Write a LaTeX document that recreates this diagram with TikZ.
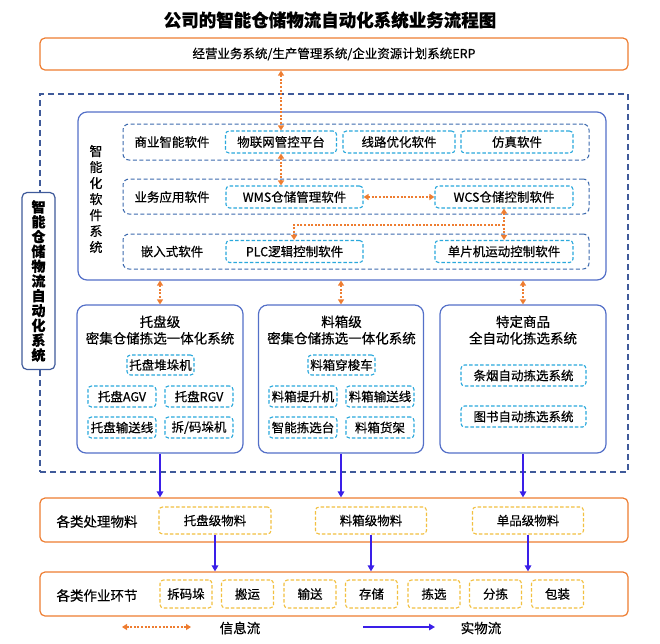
\documentclass[tikz,border=0pt]{standalone}
\usepackage{fontspec}
\setmainfont{Noto Sans CJK SC}[FakeBold=0.5]
\usetikzlibrary{arrows.meta}
\definecolor{ocol}{HTML}{EE7D31}
\definecolor{navy}{HTML}{3F5A9A}
\definecolor{swb}{HTML}{5470C8}
\definecolor{rowb}{HTML}{3D6AAE}
\definecolor{cyb}{HTML}{29A8DC}
\definecolor{yel}{HTML}{F2C040}
\definecolor{phy}{HTML}{3A1FE8}
\tikzset{
  fs/.style={font=\fontsize{12.5}{15}\selectfont},
  obox/.style={draw=ocol, rounded corners=5pt, line width=1.2pt, fill=white},
  outerdash/.style={draw=navy, line width=1.2pt, dash pattern=on 6pt off 4pt},
  swbox/.style={draw=swb, rounded corners=9pt, line width=1.2pt, fill=white},
  rowbox/.style={draw=rowb, dash pattern=on 4pt off 2.5pt, rounded corners=6pt, line width=1pt},
  cybox/.style={draw=cyb, dash pattern=on 3.5pt off 2pt, rounded corners=3.5pt, line width=1.1pt, fs, inner sep=0pt},
  yebox/.style={draw=yel, dash pattern=on 3.5pt off 2pt, rounded corners=3.5pt, line width=1.1pt, fs, inner sep=0pt},
  info/.style={draw=ocol, line width=2pt, dash pattern=on 2pt off 1.6pt, {Triangle[length=5pt,width=6pt]}-{Triangle[length=5pt,width=6pt]}},
  infoone/.style={draw=ocol, line width=2pt, dash pattern=on 2pt off 1.6pt, -{Triangle[length=5pt,width=6pt]}},
  phys/.style={draw=phy, line width=1.8pt, -{Triangle[length=6pt,width=6.5pt]}},
  lbl/.style={fs},
}
\begin{document}
\begin{tikzpicture}[x=1pt,y=-1pt]
\useasboundingbox (0,0) rectangle (660,643);
% title
\node[font=\fontsize{17.5}{20}\selectfont\bfseries] (title) at (330,20) {公司的智能仓储物流自动化系统业务流程图};
% ERP
\node[obox, minimum width=588pt, minimum height=32pt, fs] (erp) at (334,54) {经营业务系统/生产管理系统/企业资源计划系统ERP};
% outer dashed
\node[outerdash, minimum width=588pt, minimum height=378pt] (outer) at (334,283) {};
% left vertical label box
\node[draw=navy, line width=1.2pt, rounded corners=5pt, fill=white, minimum width=33pt, minimum height=177pt, align=center, inner sep=0pt, font=\fontsize{14}{14.8}\selectfont\bfseries] (side) at (38.5,281) {智\\能\\仓\\储\\物\\流\\自\\动\\化\\系\\统};
% software system box
\node[swbox, minimum width=528pt, minimum height=168pt] (sw) at (342,196) {};
\node[align=center, inner sep=0pt, font=\fontsize{13}{16}\selectfont] (swlbl) at (96,199) {智\\能\\化\\软\\件\\系\\统};
% rows
\node[rowbox, minimum width=466pt, minimum height=36pt] (row1) at (356,142) {};
\node[rowbox, minimum width=466pt, minimum height=35pt] (row2) at (356,196.5) {};
\node[rowbox, minimum width=466pt, minimum height=35pt] (row3) at (356,251.5) {};
\node[lbl] (l1) at (172,142) {商业智能软件};
\node[lbl] (l2) at (172,197) {业务应用软件};
\node[lbl] (l3) at (172,251.5) {嵌入式软件};
\node[cybox, minimum width=111pt, minimum height=22pt] (iot) at (281,142) {物联网管控平台};
\node[cybox, minimum width=112pt, minimum height=22pt] (route) at (399,142) {线路优化软件};
\node[cybox, minimum width=112pt, minimum height=22pt] (sim) at (517,142) {仿真软件};
\node[cybox, minimum width=137pt, minimum height=22pt] (wms) at (294.5,197) {WMS仓储管理软件};
\node[cybox, minimum width=138pt, minimum height=22pt] (wcs) at (504,197) {WCS仓储控制软件};
\node[cybox, minimum width=137pt, minimum height=22pt] (plc) at (294.5,251.5) {PLC逻辑控制软件};
\node[cybox, minimum width=138pt, minimum height=22pt] (mcu) at (504,251.5) {单片机运动控制软件};
% info arrows in software
\draw[info] (iot.north |- erp.south) -- (iot.north);
\draw[info] (iot.south) -- (iot.south |- wms.north);
\draw[info] (wms.east) -- (wcs.west);
\draw[info] (wcs.south) -- (mcu.north);
\coordinate (br1) at (504,224.5);
\coordinate (br2) at (294,224.5);
\draw[infoone] (br1) -- (br2) -- (br2 |- plc.north);
% system boxes
\node[swbox, minimum width=166pt, minimum height=148pt] (sys1) at (160,379) {};
\node[swbox, minimum width=165pt, minimum height=148pt] (sys2) at (341,379) {};
\node[swbox, minimum width=166pt, minimum height=148pt] (sys3) at (523,379) {};
\node[align=center, font=\fontsize{13.5}{16.5}\selectfont] (t1) at (160,330) {托盘级\\密集仓储拣选一体化系统};
\node[align=center, font=\fontsize{13.5}{16.5}\selectfont] (t2) at (341.5,330) {料箱级\\密集仓储拣选一体化系统};
\node[align=center, font=\fontsize{13.5}{16.5}\selectfont] (t3) at (523,330) {特定商品\\全自动化拣选系统};
\draw[info] (sys1.north |- sw.south) -- (sys1.north);
\draw[info] (sys2.north |- sw.south) -- (sys2.north);
\draw[info] (sys3.north |- sw.south) -- (sys3.north);
% box1 items
\node[cybox, minimum width=67pt, minimum height=20pt] (pstack) at (160.5,365) {托盘堆垛机};
\node[cybox, minimum width=68pt, minimum height=21pt] (pagv) at (122,396.5) {托盘AGV};
\node[cybox, minimum width=68pt, minimum height=21pt] (prgv) at (199,396.5) {托盘RGV};
\node[cybox, minimum width=68pt, minimum height=21pt] (pconv) at (122,427.5) {托盘输送线};
\node[cybox, minimum width=68pt, minimum height=21pt] (pdep) at (199,427.5) {拆/码垛机};
% box2 items
\node[cybox, minimum width=67pt, minimum height=20pt] (shut) at (341.5,365) {料箱穿梭车};
\node[cybox, minimum width=68pt, minimum height=21pt] (lift) at (303,396.5) {料箱提升机};
\node[cybox, minimum width=68pt, minimum height=21pt] (bconv) at (380,396.5) {料箱输送线};
\node[cybox, minimum width=68pt, minimum height=21pt] (pick) at (303,427.5) {智能拣选台};
\node[cybox, minimum width=68pt, minimum height=21pt] (shelf) at (380,427.5) {料箱货架};
% box3 items
\node[cybox, minimum width=125pt, minimum height=21pt] (cig) at (523.5,375.5) {条烟自动拣选系统};
\node[cybox, minimum width=125pt, minimum height=21pt] (book) at (523.5,416.5) {图书自动拣选系统};
% material box
\node[obox, minimum width=588pt, minimum height=44pt] (mat) at (334,520) {};
\node[font=\fontsize{13.5}{16}\selectfont] (matl) at (97,521.5) {各类处理物料};
\node[yebox, minimum width=112pt, minimum height=27pt] (m1) at (215,520.5) {托盘级物料};
\node[yebox, minimum width=111pt, minimum height=27pt] (m2) at (371,520.5) {料箱级物料};
\node[yebox, minimum width=111pt, minimum height=27pt] (m3) at (528,520.5) {单品级物料};
\draw[phys] (sys1.south) -- (sys1.south |- mat.north);
\draw[phys] (sys2.south) -- (sys2.south |- mat.north);
\draw[phys] (sys3.south) -- (sys3.south |- mat.north);
% operations box
\node[obox, minimum width=588pt, minimum height=44pt] (ops) at (334,594) {};
\node[font=\fontsize{13.5}{16}\selectfont] (opsl) at (97,595.5) {各类作业环节};
\node[yebox, minimum width=52pt, minimum height=28pt] (o1) at (186,594) {拆码垛};
\node[yebox, minimum width=52pt, minimum height=28pt] (o2) at (247.5,594) {搬运};
\node[yebox, minimum width=52pt, minimum height=28pt] (o3) at (310,594) {输送};
\node[yebox, minimum width=52pt, minimum height=28pt] (o4) at (371.5,594) {存储};
\node[yebox, minimum width=52pt, minimum height=28pt] (o5) at (434,594) {拣选};
\node[yebox, minimum width=52pt, minimum height=28pt] (o6) at (495.5,594) {分拣};
\node[yebox, minimum width=52pt, minimum height=28pt] (o7) at (557.5,594) {包装};
\draw[phys] (m1.south) -- (m1.south |- ops.north);
\draw[phys] (m2.south) -- (m2.south |- ops.north);
\draw[phys] (m3.south) -- (m3.south |- ops.north);
% legend
\coordinate (li1) at (122,627);
\coordinate (li2) at (191,627);
\draw[info] (li1) -- (li2);
\node[font=\fontsize{13.5}{16}\selectfont] (lit) at (240,628) {信息流};
\coordinate (lp1) at (363,627);
\coordinate (lp2) at (435,627);
\draw[phys] (lp1) -- (lp2);
\node[font=\fontsize{13.5}{16}\selectfont] (lpt) at (481,628) {实物流};
\end{tikzpicture}
\end{document}
